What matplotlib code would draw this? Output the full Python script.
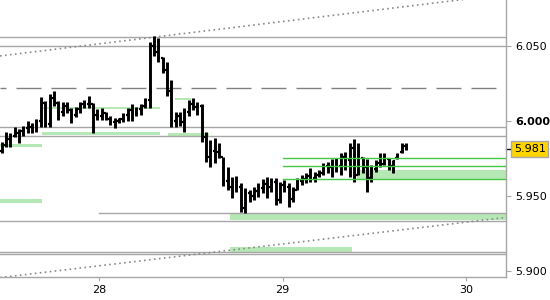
import matplotlib
matplotlib.use('Agg')
import matplotlib.pyplot as plt
import matplotlib.transforms as mtransforms
import numpy as np

# ---- price bars (30-ish minute OHLC) ----
highs = [5.9860, 5.9927, 5.9916, 5.9960, 5.9943, 5.9965, 5.9998, 5.9987, 6.0010, 6.0160,
         6.0134, 6.0178, 6.0198, 6.0134, 6.0127, 6.0127, 6.0083, 6.0094, 6.0127, 6.0138,
         6.0165, 6.0120, 6.0076, 6.0083, 6.0060, 6.0032, 6.0016, 6.0016, 6.0050, 6.0083,
         6.0112, 6.0090, 6.0112, 6.0150, 6.0527, 6.0565, 6.0552, 6.0427, 6.0394, 6.0272,
         6.0060, 6.0060, 6.0083, 6.0138, 6.0150, 6.0127, 6.0112, 5.9927, 5.9872, 5.9883,
         5.9850, 5.9760, 5.9694, 5.9623, 5.9632, 5.9583, 5.9550, 5.9538, 5.9560, 5.9583,
         5.9610, 5.9623, 5.9616, 5.9616, 5.9594, 5.9605, 5.9583, 5.9560, 5.9616, 5.9638,
         5.9650, 5.9683, 5.9660, 5.9672, 5.9716, 5.9727, 5.9743, 5.9750, 5.9783, 5.9794,
         5.9854, 5.9876, 5.9850, 5.9760, 5.9743, 5.9705, 5.9738, 5.9787, 5.9787, 5.9750,
         5.9738, 5.9783, 5.9854, 5.9850]
lows = [5.9787, 5.9827, 5.9827, 5.9894, 5.9850, 5.9898, 5.9916, 5.9920, 5.9927, 5.9960,
        5.9960, 5.9960, 6.0098, 6.0005, 6.0032, 6.0050, 5.9987, 6.0027, 6.0054, 6.0083,
        6.0087, 5.9920, 6.0005, 6.0005, 6.0005, 5.9972, 5.9950, 5.9983, 5.9994, 6.0000,
        6.0000, 6.0032, 6.0038, 6.0083, 6.0083, 6.0432, 6.0392, 6.0316, 6.0165, 5.9960,
        5.9960, 5.9965, 5.9927, 6.0032, 6.0072, 6.0038, 5.9860, 5.9727, 5.9694, 5.9720,
        5.9750, 5.9565, 5.9538, 5.9483, 5.9527, 5.9394, 5.9387, 5.9460, 5.9472, 5.9494,
        5.9516, 5.9483, 5.9527, 5.9438, 5.9450, 5.9527, 5.9423, 5.9460, 5.9538, 5.9572,
        5.9583, 5.9594, 5.9594, 5.9627, 5.9638, 5.9650, 5.9627, 5.9660, 5.9638, 5.9672,
        5.9627, 5.9594, 5.9638, 5.9650, 5.9527, 5.9594, 5.9660, 5.9694, 5.9705, 5.9672,
        5.9650, 5.9743, 5.9783, 5.9805]
opens = [5.9800, 5.9840, 5.9880, 5.9900, 5.9920, 5.9930, 5.9950, 5.9960, 5.9970, 5.9995,
         6.0120, 5.9980, 6.0150, 6.0120, 6.0060, 6.0100, 6.0070, 6.0040, 6.0080, 6.0110,
         6.0110, 6.0110, 6.0040, 6.0030, 6.0050, 6.0010, 5.9990, 6.0000, 6.0010, 6.0040,
         6.0070, 6.0050, 6.0080, 6.0100, 6.0140, 6.0500, 6.0460, 6.0420, 6.0340, 6.0200,
         6.0000, 6.0030, 5.9990, 6.0060, 6.0110, 6.0090, 6.0100, 5.9890, 5.9760, 5.9800,
         5.9790, 5.9760, 5.9600, 5.9560, 5.9590, 5.9560, 5.9420, 5.9520, 5.9500, 5.9530,
         5.9550, 5.9580, 5.9560, 5.9590, 5.9470, 5.9570, 5.9560, 5.9480, 5.9540, 5.9600,
         5.9610, 5.9630, 5.9620, 5.9640, 5.9650, 5.9700, 5.9690, 5.9720, 5.9700, 5.9760,
         5.9740, 5.9820, 5.9640, 5.9750, 5.9690, 5.9620, 5.9680, 5.9720, 5.9710, 5.9745,
         5.9700, 5.9750, 5.9790, 5.9830]
closes = [5.9840, 5.9880, 5.9900, 5.9920, 5.9930, 5.9950, 5.9960, 5.9970, 5.9995, 6.0120,
          5.9980, 6.0150, 6.0120, 6.0060, 6.0100, 6.0070, 6.0040, 6.0080, 6.0110, 6.0110,
          6.0150, 6.0040, 6.0030, 6.0050, 6.0010, 5.9990, 6.0000, 6.0010, 6.0040, 6.0070,
          6.0050, 6.0080, 6.0100, 6.0140, 6.0500, 6.0460, 6.0420, 6.0340, 6.0200, 6.0000,
          6.0030, 5.9990, 6.0060, 6.0110, 6.0090, 6.0100, 5.9890, 5.9760, 5.9800, 5.9790,
          5.9760, 5.9600, 5.9560, 5.9590, 5.9560, 5.9420, 5.9520, 5.9500, 5.9530, 5.9550,
          5.9580, 5.9560, 5.9590, 5.9470, 5.9570, 5.9560, 5.9480, 5.9540, 5.9600, 5.9610,
          5.9630, 5.9620, 5.9640, 5.9650, 5.9700, 5.9690, 5.9720, 5.9700, 5.9760, 5.9740,
          5.9820, 5.9640, 5.9790, 5.9690, 5.9620, 5.9680, 5.9720, 5.9710, 5.9760, 5.9700,
          5.9730, 5.9770, 5.9830, 5.9810]

bar_start = 27.4698   # day of first bar
bar_step = 0.02369    # bar length in days

# ---- levels / zones ----
gray_levels = [6.0556, 6.0498, 5.9958, 5.9898, 5.9330, 5.9123, 5.9110]
gray_level_from28 = 5.9383
dashed_level = 6.0216
green_lines = [5.9750, 5.9696, 5.9610]
green_lines_from = 29.0
# (day from, day to, price low, price high)
zones = [
    (27.4605, 27.6894, 5.9827, 5.9845),
    (27.6894, 28.3324, 5.9907, 5.9925),
    (27.6894, 28.3324, 6.0080, 6.0094),
    (28.4140, 28.4997, 6.0138, 6.0152),
    (28.3760, 28.6010, 5.9898, 5.9920),
    (27.4605, 27.6894, 5.9454, 5.9478),
    (28.7140, 30.2163, 5.9338, 5.9378),
    (28.7140, 29.3790, 5.9125, 5.9156),
    (29.4060, 30.2163, 5.9610, 5.9672),
]
upper_trend_x, upper_trend_y = [27.4605, 30.2163], [6.0432, 6.0843]
lower_trend_x, lower_trend_y = [27.4605, 30.2163], [5.8954, 5.9355]
last_price = 5.981

xmin, xmax = 27.4605, 30.2163
ymin, ymax = 5.8960, 6.0805

fig = plt.figure(figsize=(5.5, 3), dpi=100)
ax = fig.add_axes([0, 0.0777, 0.9195, 0.9223])
ax.set_xlim(xmin, xmax)
ax.set_ylim(ymin, ymax)

green_fill = '#b6e8b6'
for x0, x1, y0, y1 in zones:
    ax.fill_between([x0, x1], y0, y1, color=green_fill, lw=0, zorder=1)

for lvl in gray_levels:
    ax.axhline(lvl, color='#a6a6a6', lw=1, zorder=2)
ax.plot([28, xmax], [gray_level_from28] * 2, color='#a6a6a6', lw=1, zorder=2)
ax.plot([xmin, 30.1635], [dashed_level] * 2, color='#808080', lw=1,
        linestyle=(13.7, (18, 7.2)), zorder=2)

ax.plot(upper_trend_x, upper_trend_y, color='#8a8a8a', lw=1.2,
        linestyle=(0, (1, 2)), zorder=2)
ax.plot(lower_trend_x, lower_trend_y, color='#8a8a8a', lw=1.2,
        linestyle=(0, (1, 2)), zorder=2)

# OHLC bars
xs = bar_start + np.arange(len(highs)) * bar_step
tick = 0.45 * bar_step
ax.vlines(xs, lows, highs, color='black', lw=2.1, zorder=3)
ax.hlines(opens, xs - tick, xs, color='black', lw=1.6, zorder=3)
ax.hlines(closes, xs, xs + tick, color='black', lw=1.6, zorder=3)

for lvl in green_lines:
    ax.plot([green_lines_from, xmax], [lvl] * 2, color='#44c844', lw=1, zorder=4)

# axes styling
for s in ['top', 'left']:
    ax.spines[s].set_visible(False)
for s in ['bottom', 'right']:
    ax.spines[s].set_color('#a6a6a6')
    ax.spines[s].set_linewidth(1)
ax.yaxis.tick_right()
ax.set_yticks([5.900, 5.950, 6.000, 6.050])
ax.set_yticklabels(['5.900', '5.950', '6.000', '6.050'])
ax.set_xticks([28, 29, 30])
ax.set_xticklabels(['28', '29', '30'])
ax.tick_params(axis='y', direction='out', length=3.6, color='#a6a6a6', pad=3,
               labelsize=8, labelcolor='black')
ax.tick_params(axis='x', direction='out', length=3, color='#a6a6a6', pad=3,
               labelsize=8, labelcolor='black')
for lab in ax.get_yticklabels():
    if lab.get_text() == '6.000':
        lab.set_fontweight('bold')

# last price marker
trans = mtransforms.blended_transform_factory(ax.transAxes, ax.transData)
ax.plot([1.0, 1.0 + 5 / 505.7], [last_price] * 2, color='black', lw=1,
        transform=trans, clip_on=False)
ax.text(1.0 + 8 / 505.7, last_price, f'{last_price:.3f}', transform=trans,
        ha='left', va='center', fontsize=8, color='black',
        bbox=dict(boxstyle='square,pad=0.25', fc='#ffd400', ec='#a8a8a8', lw=1))

fig.savefig('out.png', dpi=100)
